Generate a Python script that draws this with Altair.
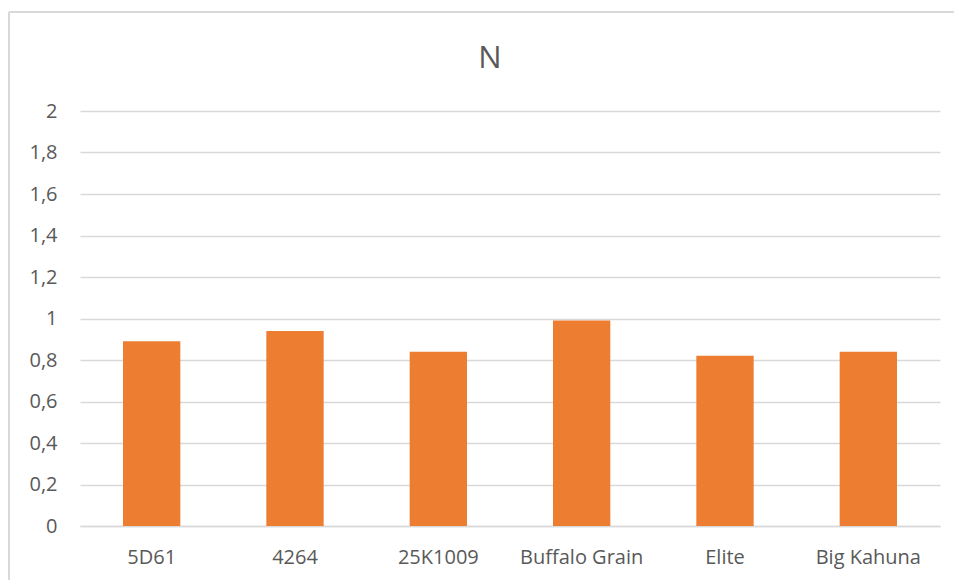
import altair as alt
import pandas as pd

# Nitrogen content by variety
varieties = ["5D61", "4264", "25K1009", "Buffalo Grain", "Elite", "Big Kahuna"]
n_values = [0.89, 0.94, 0.84, 0.99, 0.82, 0.84]

df = pd.DataFrame({"variety": varieties, "N": n_values})

TEXT = "#595959"
GRID = "#D9D9D9"
FONT = "Open Sans"

bars = alt.Chart(df).mark_bar(color="#ED7D31").encode(
    x=alt.X(
        "variety:N",
        sort=varieties,
        title=None,
        scale=alt.Scale(paddingInner=0.6, paddingOuter=0.3),
        axis=alt.Axis(
            labelAngle=0,
            labelFont=FONT,
            labelFontSize=20,
            labelColor=TEXT,
            labelPadding=21,
            ticks=False,
            domainColor=GRID,
            domainWidth=1.5,
        ),
    ),
    y=alt.Y(
        "N:Q",
        title=None,
        scale=alt.Scale(domain=[0, 2]),
        axis=alt.Axis(
            values=[0, 0.2, 0.4, 0.6, 0.8, 1, 1.2, 1.4, 1.6, 1.8, 2],
            labelExpr="replace(format(datum.value, '.1~f'), '.', ',')",
            labelFont=FONT,
            labelFontSize=20,
            labelColor=TEXT,
            labelPadding=23,
            ticks=False,
            domain=False,
            gridColor=GRID,
            gridWidth=1.5,
        ),
    ),
)

# outer frame of the chart area
frame_left = alt.Chart(df).mark_rule(color=GRID, strokeWidth=1.5).encode(
    x=alt.value(-71), y=alt.value(-99), y2=alt.value(480)
)
frame_top = alt.Chart(df).mark_rule(color=GRID, strokeWidth=1.5).encode(
    x=alt.value(-71), x2=alt.value(880), y=alt.value(-99)
)

chart = (
    alt.layer(frame_left, frame_top, bars)
    .properties(
        width=860,
        height=415,
        title=alt.TitleParams(
            "N",
            font=FONT,
            fontSize=31,
            fontWeight="normal",
            color=TEXT,
            frame="group",
            baseline="alphabetic",
            offset=-88,
            dx=-20,
        ),
        padding={"left": 80, "top": 111, "right": 14, "bottom": 54},
        autosize=alt.AutoSizeParams(type="none"),
    )
    .configure_view(stroke=None)
)

chart.save("out.html", embed_options={"renderer": "svg", "actions": False})
